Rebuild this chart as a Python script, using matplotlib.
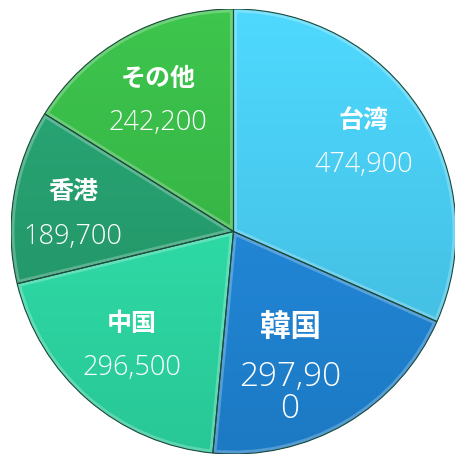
import numpy as np
import matplotlib
matplotlib.use("Agg")
import matplotlib.pyplot as plt
import matplotlib.colors as mcolors
from matplotlib.patches import Wedge

names = ["台湾", "韓国", "中国", "香港", "その他"]
values = [474900, 297900, 296500, 189700, 242200]
value_labels = ["474,900", "297,90\n0", "296,500", "189,700", "242,200"]
colors = ["#45c6eb", "#1f84d4", "#2cd8a3", "#239a6b", "#35b444"]

fig = plt.figure(figsize=(4.55, 4.56), dpi=100)
ax = fig.add_axes([11 / 455, 1 / 456, 445 / 455, 445 / 456])

wedges, _ = ax.pie(values, colors=colors, startangle=90, counterclock=False,
                   radius=1.0, wedgeprops=dict(linewidth=0))

# soft vertical shading and a light bevel inside each wedge
grad = np.linspace(1, 0, 256).reshape(-1, 1)
for w, c in zip(wedges, colors):
    rgb = np.array(mcolors.to_rgb(c))
    top = np.clip(rgb * 1.07 + 0.02, 0, 1)
    bot = rgb * 0.92
    img = grad[..., None] * top + (1 - grad[..., None]) * bot
    im = ax.imshow(img, extent=(-1, 1, -1, 1), aspect="auto", zorder=1.5)
    im.set_clip_path(w)
    w.set_zorder(1)
    bevel = Wedge(w.center, w.r, w.theta1, w.theta2, facecolor="none",
                  edgecolor="white", alpha=0.25, linewidth=5, zorder=1.8)
    ax.add_patch(bevel)
    bevel.set_clip_path(w)
    edge = Wedge(w.center, w.r, w.theta1, w.theta2, facecolor="none",
                 edgecolor="#1b4a3a", linewidth=0.8, zorder=2)
    ax.add_patch(edge)

# label nudges (data units) to match the chart's best-fit placement
nudge = {"韓国": (-0.10, 0.04), "香港": (-0.03, -0.05), "その他": (0.0, -0.04)}

total = sum(values)
cum = 0
for nm, vl, v in zip(names, value_labels, values):
    mid = 90 - (cum + v / 2) / total * 360
    cum += v
    r = 0.70
    dx, dy = nudge.get(nm, (0, 0))
    x = r * np.cos(np.radians(mid)) + dx
    y = r * np.sin(np.radians(mid)) + dy
    big = "\n" in vl
    ax.text(x, y + (0.12 if not big else 0.14), nm, ha="center", va="center",
            color="white", fontsize=22 if big else 18, fontweight="bold",
            family=["Noto Sans CJK JP", "DejaVu Sans"], zorder=5)
    ax.text(x, y - (0.08 if not big else 0.16), vl, ha="center", va="center",
            color="white", fontsize=24 if big else 19.5, fontweight="light",
            family=["Open Sans", "DejaVu Sans"], linespacing=0.95, zorder=5)

ax.set_xlim(-1, 1)
ax.set_ylim(-1, 1)
ax.set_aspect("equal")
ax.axis("off")
fig.savefig("out.png", dpi=100)
